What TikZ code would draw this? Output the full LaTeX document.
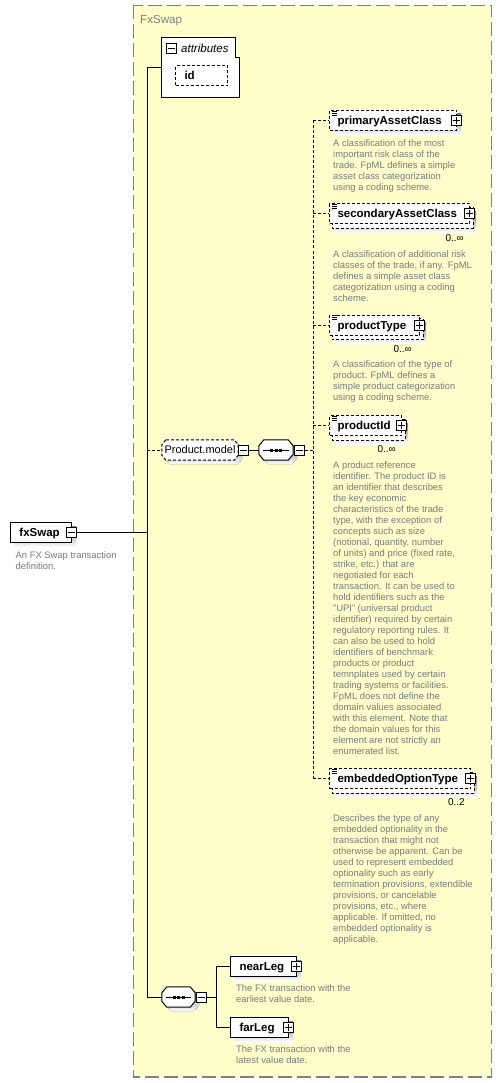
\documentclass[tikz,border=0pt]{standalone}
\usepackage{fontspec}
\setmainfont{Liberation Sans}
\usetikzlibrary{calc}
\definecolor{contfill}{RGB}{255,255,204}
\definecolor{contline}{RGB}{128,128,128}
\definecolor{shade}{RGB}{192,192,192}
\definecolor{desc}{RGB}{122,122,122}
\pgfdeclarelayer{back}
\pgfdeclarelayer{mid}
\pgfsetlayers{back,mid,main}
\newcommand\elemfont{\bfseries\fontsize{11.5}{13}\selectfont}
\newcommand\descfont{\fontsize{9.4}{11}\selectfont}
% octagon path: node, chamfer x, chamfer y, dx, dy
\newcommand\octpath[5]{($(#1.north west)+(#2+#4,#5)$) -- ($(#1.north east)+(-#2+#4,#5)$) -- ($(#1.north east)+(#4,#3+#5)$) -- ($(#1.south east)+(#4,-#3+#5)$) -- ($(#1.south east)+(-#2+#4,#5)$) -- ($(#1.south west)+(#2+#4,#5)$) -- ($(#1.south west)+(#4,-#3+#5)$) -- ($(#1.north west)+(#4,#3+#5)$) -- cycle}
\newcommand\typeicon[1]{\draw[line width=0.8pt] ($(#1.north west)+(2.5,1)$) -- +(5,0) ($(#1.north west)+(2.5,3)$) -- +(5,0) ($(#1.north west)+(2.5,5)$) -- +(5,0);}
\newcommand\seqdots[1]{\draw[line width=1pt] ($(#1.west)+(4,0)$) -- ($(#1.east)+(-4,0)$);
  \fill ($(#1.center)+(-6,-1.5)$) rectangle +(3,3);
  \fill ($(#1.center)+(-1.5,-1.5)$) rectangle +(3,3);
  \fill ($(#1.center)+(3,-1.5)$) rectangle +(3,3);}
\tikzset{
  elem/.style={draw, fill=white, font=\elemfont, anchor=west, align=left, inner ysep=5pt, text height=9pt, text depth=1pt, line width=1pt},
  optelem/.style={elem, dash pattern=on 3pt off 2pt, inner xsep=8pt},
  reqelem/.style={elem, inner xsep=9pt},
  descr/.style={font=\descfont, text=desc, align=left, anchor=north west, inner sep=0pt},
  mult/.style={font=\fontsize{10}{12}\selectfont, anchor=base east, inner sep=0pt},
  iconbox/.style={draw, fill=white, minimum size=10pt, inner sep=0pt, line width=1pt},
  plusicon/.style={iconbox, path picture={\draw[line width=1pt] ($(path picture bounding box.center)+(-3.5,0)$) -- ($(path picture bounding box.center)+(3.5,0)$) ($(path picture bounding box.center)+(0,-3.5)$) -- ($(path picture bounding box.center)+(0,3.5)$);}},
  minusicon/.style={iconbox, path picture={\draw[line width=1pt] ($(path picture bounding box.center)+(-3.5,0)$) -- ($(path picture bounding box.center)+(3.5,0)$);}},
  conn/.style={line width=1pt},
  optconn/.style={line width=1pt, dash pattern=on 3pt off 2pt},
}
\begin{document}
\begin{tikzpicture}[x=1pt,y=-1pt]
\useasboundingbox (0,0) rectangle (502,1083);
\begin{pgfonlayer}{back}
  \fill[white] (0,0) rectangle (502,1083);
  \draw[fill=contfill, draw=contline, line width=1.3pt, dash pattern=on 14pt off 5pt] (133.5,5.5) rectangle (491.5,1077);
\end{pgfonlayer}
\node[font=\fontsize{11.6}{13}\selectfont, text=contline, anchor=base west, inner sep=0pt] (title) at (140,24) {FxSwap};

% ---- root element
\node[reqelem, text width=43pt] (fx) at (10,532.5) {fxSwap};
\node[minusicon] (fxm) at (71,532.5) {};
\node[descr] (fxd) at (15.5,550.3) {\strut An FX Swap transaction\\definition.};

% ---- attributes
\node[draw=none, minimum width=78pt, minimum height=59pt, anchor=north west, inner sep=0pt] (attr) at (161,38) {};
\node[minusicon] (attrm) at (171.5,48.5) {};
\node[font=\itshape\fontsize{11.5}{13}\selectfont, anchor=base west, inner sep=0pt] (attrl) at (181,52.3) {attributes};
\node[optelem, inner xsep=9pt, text width=34pt] (id) at (175,76) {id};

% ---- Product.model group
\node[font=\fontsize{11}{13}\selectfont, minimum width=76pt, minimum height=20pt, inner sep=0pt] (pm) at (200,450) {Product.model};
\node[minusicon] (pmm) at (243,450) {};
\node[minimum width=34pt, minimum height=20pt, inner sep=0pt] (seqa) at (276,450) {};
\node[minusicon] (seqam) at (299,450) {};

% ---- children of Product.model
\node[optelem, text width=111pt] (pac) at (329,120.5) {primaryAssetClass};
\node[plusicon] (pacp) at (456,120.5) {};
\node[descr] (pacd) at (333,138.3) {\strut A classification of the most\\important risk class of the\\trade. FpML defines a simple\\asset class categorization\\using a coding scheme.};

\node[optelem, text width=124pt] (sac) at (329,214) {secondaryAssetClass};
\node[plusicon] (sacp) at (469,214) {};
\node[mult] (sacm) at (464,241) {0..∞};
\node[descr] (sacd) at (333,249.8) {\strut A classification of additional risk\\classes of the trade, if any. FpML\\defines a simple asset class\\categorization using a coding\\scheme.};

\node[optelem, text width=74pt] (pt) at (329,325) {productType};
\node[plusicon] (ptp) at (419,325) {};
\node[mult] (ptm) at (412,352) {0..∞};
\node[descr] (ptd) at (333,359.3) {\strut A classification of the type of\\product. FpML defines a\\simple product categorization\\using a coding scheme.};

\node[optelem, text width=56pt] (pid) at (329,425.5) {productId};
\node[plusicon] (pidp) at (401,425.5) {};
\node[mult] (pidm) at (396,452) {0..∞};
\node[descr] (pidd) at (333,460.3) {\strut A product reference\\identifier. The product ID is\\an identifier that describes\\the key economic\\characteristics of the trade\\type, with the exception of\\concepts such as size\\(notional, quantity, number\\of units) and price (fixed rate,\\strike, etc.) that are\\negotiated for each\\transaction. It can be used to\\hold identifiers such as the\\"UPI" (universal product\\identifier) required by certain\\regulatory reporting rules. It\\can also be used to hold\\identifiers of benchmark\\products or product\\temnplates used by certain\\trading systems or facilities.\\FpML does not define the\\domain values associated\\with this element. Note that\\the domain values for this\\element are not strictly an\\enumerated list.};

\node[optelem, text width=125pt] (eot) at (329,778.5) {embeddedOptionType};
\node[plusicon] (eotp) at (470,778.5) {};
\node[mult] (eotm) at (465,805) {0..2};
\node[descr] (eotd) at (333,813.3) {\strut Describes the type of any\\embedded optionality in the\\transaction that might not\\otherwise be apparent. Can be\\used to represent embedded\\optionality such as early\\termination provisions, extendible\\provisions, or cancelable\\provisions, etc., where\\applicable. If omitted, no\\embedded optionality is\\applicable.};

% ---- bottom sequence
\node[minimum width=33pt, minimum height=20pt, inner sep=0pt] (seqb) at (178.5,997) {};
\node[minusicon] (seqbm) at (201,997) {};
\node[reqelem, text width=48pt] (near) at (230,966.5) {nearLeg};
\node[plusicon] (nearp) at (296,966.5) {};
\node[descr] (neard) at (236,983.3) {\strut The FX transaction with the\\earliest value date.};
\node[reqelem, text width=40pt] (far) at (230,1027.5) {farLeg};
\node[plusicon] (farp) at (288,1027.5) {};
\node[descr] (fard) at (236,1044.3) {\strut The FX transaction with the\\latest value date.};

% ---- shapes behind the nodes
\begin{pgfonlayer}{mid}
  \fill[shade] ($(fx.north west)+(4,4)$) rectangle ($(fx.south east)+(4,4)$);
  \fill[shade] ($(near.north west)+(4,4)$) rectangle ($(near.south east)+(4,4)$);
  \fill[shade] ($(far.north west)+(4,4)$) rectangle ($(far.south east)+(4,4)$);
  \fill[shade] ($(id.north west)+(4,4)$) rectangle ($(id.south east)+(4,4)$);
  \fill[shade] ($(pac.north west)+(4,4)$) rectangle ($(pac.south east)+(4,4)$);
  \foreach \n in {sac,pt,pid,eot}{
    \fill[shade] ($(\n.north west)+(6,8)$) rectangle ($(\n.south east)+(6,8)$);
    \draw[optconn, fill=white] ($(\n.north west)+(3,4)$) rectangle ($(\n.south east)+(3,4)$);
  }
  \draw[line width=1pt, fill=white] (attr.north west) -- ($(attr.north east)+(-4,0)$) -- ($(attr.north east)+(-4,20)$) -- ($(attr.north east)+(0,20)$) -- (attr.south east) -- (attr.south west) -- cycle;
  \fill[shade] \octpath{pm}{4}{5}{4}{4};
  \draw[optconn, fill=white] \octpath{pm}{4}{5}{0}{0};
  \fill[shade] \octpath{seqa}{5}{6}{4}{4};
  \draw[line width=1pt, fill=white] \octpath{seqa}{5}{6}{0}{0};
  \fill[shade] \octpath{seqb}{5}{6}{4}{4};
  \draw[line width=1pt, fill=white] \octpath{seqb}{5}{6}{0}{0};
\end{pgfonlayer}
\seqdots{seqa}
\seqdots{seqb}
\typeicon{pac}
\typeicon{sac}
\typeicon{pt}
\typeicon{pid}
\typeicon{eot}

% ---- connectors
\coordinate (trunkTop) at (147,68);
\coordinate (trunkBot) at (147,997);
\coordinate (br) at (313,450);
\coordinate (lr) at (216,997);
\draw[conn] (trunkTop) -- (trunkBot);
\draw[conn] (trunkTop) -- (trunkTop -| attr.west);
\draw[conn] (fxm.east) -- (fxm.east -| trunkTop);
\draw[optconn] (trunkTop |- pm.west) -- (pm.west);
\draw[conn] (pmm.east) -- (seqa.west);
\draw[optconn] (seqam.east) -- (br);
\draw[optconn] (br |- pac.west) -- (br |- eot.west);
\draw[optconn] (br |- pac.west) -- (pac.west);
\draw[optconn] (br |- sac.west) -- (sac.west);
\draw[optconn] (br |- pt.west) -- (pt.west);
\draw[optconn] (br |- pid.west) -- (pid.west);
\draw[optconn] (br |- eot.west) -- (eot.west);
\draw[conn] (trunkBot) -- (seqb.west);
\draw[conn] (seqbm.east) -- (lr);
\draw[conn] (lr |- near.west) -- (lr |- far.west);
\draw[conn] (lr |- near.west) -- (near.west);
\draw[conn] (lr |- far.west) -- (far.west);
\end{tikzpicture}
\end{document}
